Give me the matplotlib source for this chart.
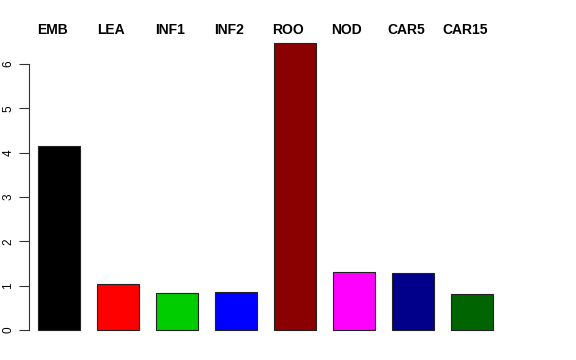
import matplotlib
matplotlib.use("Agg")
import matplotlib.pyplot as plt

# valores
tissues = ["EMB", "LEA", "INF1", "INF2", "ROO", "NOD", "CAR5", "CAR15"]
values = [4.15, 1.04, 0.83, 0.86, 6.47, 1.31, 1.29, 0.81]
colors = ["#000000", "#FF0000", "#00CD00", "#0000FF", "#8B0000", "#FF00FF", "#00008B", "#006400"]

plt.rcParams['font.family'] = ['Liberation Sans', 'DejaVu Sans']

fig = plt.figure(figsize=(5.76, 3.6), dpi=100)
# eixo posicionado em pixels: esquerda 29, base 341.5, topo 31.7
ax = fig.add_axes([29/576, (360-341.5)/360, (531-29)/576, (341.5-31.7)/360])

x = list(range(len(tissues)))
ax.bar(x, values, width=0.71, color=colors, edgecolor="#222222", linewidth=0.8)

ax.set_xlim(-30/59, (531-59)/59)
ax.set_ylim(-0.04*6.47, 6.47*1.04)

for s in ["top", "right", "bottom"]:
    ax.spines[s].set_visible(False)
ax.spines['left'].set_bounds(0, 6)
ax.spines['left'].set_color("#333333")
ax.set_xticks([])
ax.set_yticks(range(7))
ax.tick_params(axis='y', length=7, labelsize=8.5, color="#333333")
for lab in ax.get_yticklabels():
    lab.set_rotation(90)
    lab.set_va('center')

# nomes dos tecidos acima das barras
for i, name in enumerate(tissues):
    fig.text((59 + 59*i - 7)/576, (360-30)/360, name, ha='center', va='center',
             fontsize=10, fontweight='bold')

fig.savefig("out.png", dpi=100, facecolor="white")
